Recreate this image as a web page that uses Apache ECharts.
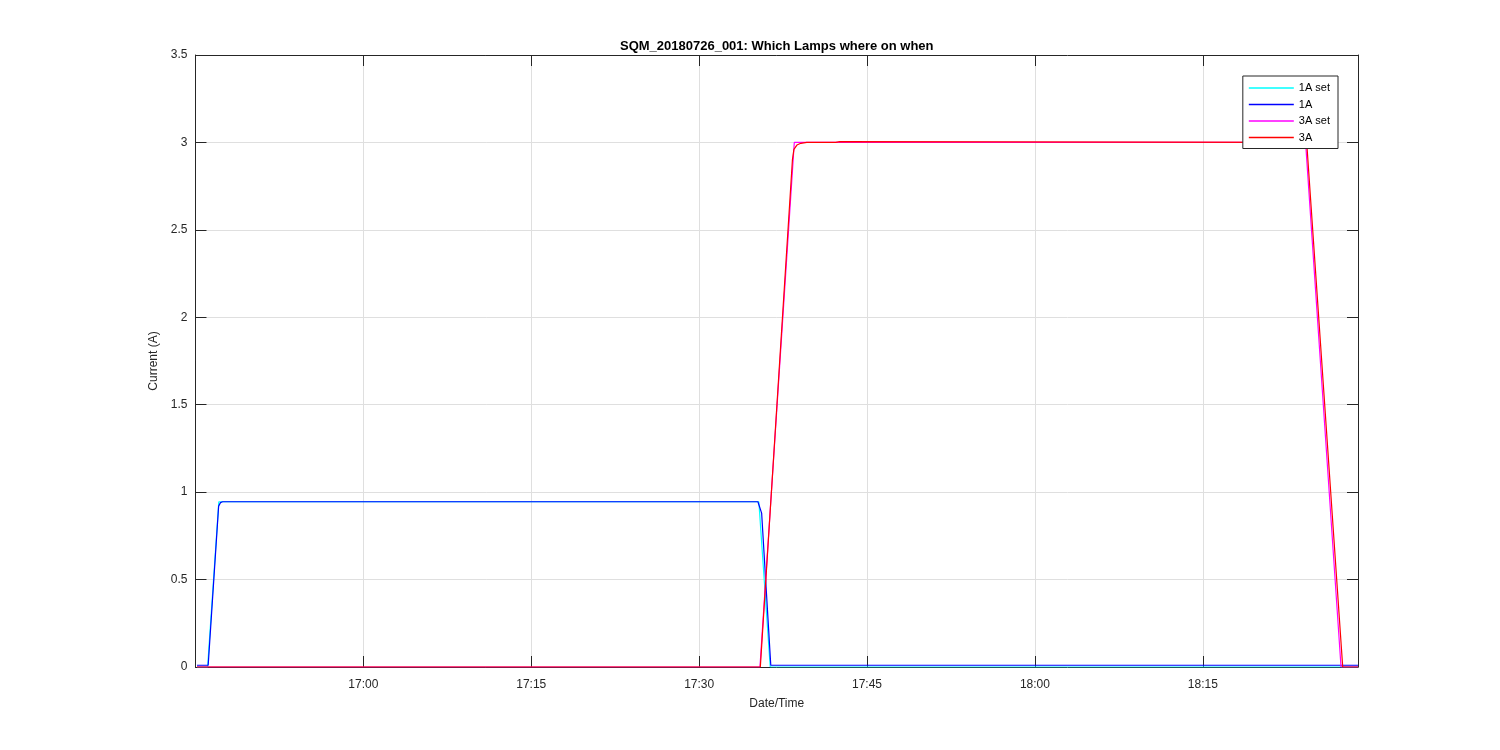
<!DOCTYPE html>
<html>
<head>
<meta charset="utf-8">
<script src="https://cdn.jsdelivr.net/npm/echarts@6/dist/echarts.min.js"></script>
<style>
html,body{margin:0;padding:0;background:#fff;}
#chart{width:1500px;height:750px;}
</style>
</head>
<body>
<div id="chart"></div>
<script>
// ---- data (times on 2018-07-26, HH:MM:SS) ----
const titleText = 'SQM_20180726_001: Which Lamps where on when';
const seriesNames = ['1A set', '1A', '3A set', '3A'];
const yTicks = [0, 0.5, 1, 1.5, 2, 2.5, 3, 3.5];
const xStart = '16:45:00';
const xEnd = '18:28:52';

const oneASetTimes = ['16:45:08','16:46:05','16:47:05','17:35:20','17:36:21','18:28:52'];
const oneASetVals  = [0, 0, 0.945, 0.945, 0, 0];

const oneATimes = ['16:45:08','16:46:08','16:47:04','16:47:14','16:47:25','17:35:15','17:35:35','17:36:24','18:28:52'];
const oneAVals  = [0.01, 0.01, 0.92, 0.94, 0.945, 0.945, 0.88, 0.01, 0.01];

const threeASetTimes = ['16:45:08','17:35:26','17:38:30','18:24:11','18:27:21','18:28:52'];
const threeASetVals  = [0, 0, 3, 3, 0, 0];

const threeATimes = ['16:45:08','17:35:28','17:38:20','17:38:28','17:38:44','17:39:05','17:39:37','17:42:12','17:42:18','17:42:34','17:42:39','18:24:17','18:27:30','18:28:52'];
const threeAVals  = [0, 0, 2.9, 2.96, 2.985, 2.995, 3, 3, 3.005, 3.005, 3, 3, 0, 0];

// ---- helpers ----
function toMin(s){ const p = s.split(':').map(Number); return p[0]*60 + p[1] + (p[2]||0)/60; }
function pairs(ts, vs){ return ts.map((t,i)=>[toMin(t), vs[i]]); }
function fmtTime(v){ const r = Math.round(v); const h = Math.floor(r/60), m = r%60; return h + ':' + (m<10?'0':'') + m; }

const FONT = '"Liberation Sans", Arial, Helvetica, sans-serif';
const AX = '#262626';
const GRIDC = '#dfdfdf';
const colors = ['#00ffff', '#0000ff', '#ff00ff', '#ff0000'];
const xMin = toMin(xStart), xMax = toMin(xEnd);

const chart = echarts.init(document.getElementById('chart'), null, {renderer: 'canvas'});

const gridLeft = 195.5, gridRight = 142, gridTop = 55, gridBottom = 83;

chart.setOption({
  animation: false,
  backgroundColor: '#fff',
  textStyle: {fontFamily: FONT},
  graphic: [{
    type: 'text',
    x: (gridLeft + (1500 - gridRight)) / 2,
    y: 46,
    style: {text: titleText, fill: '#000', font: 'bold 13px ' + FONT, textAlign: 'center', textVerticalAlign: 'middle'},
    z: 10
  }],
  grid: {left: gridLeft, right: gridRight, top: gridTop, bottom: gridBottom, containLabel: false, outerBoundsMode: 'none'},
  legend: {
    data: seriesNames,
    orient: 'vertical',
    right: 162,
    top: 76,
    icon: 'rect',
    itemWidth: 45,
    itemHeight: 1.5,
    itemGap: 4.5,
    selectedMode: false,
    backgroundColor: '#fff',
    borderColor: AX,
    borderWidth: 1,
    borderRadius: 0,
    padding: [6, 8, 5, 6],
    textStyle: {fontSize: 11, lineHeight: 12, color: '#000', fontFamily: FONT}
  },
  xAxis: [{
    type: 'value',
    min: xMin, max: xMax, interval: 15,
    name: 'Date/Time', nameLocation: 'middle', nameGap: 31,
    nameTextStyle: {fontSize: 12, color: AX, fontFamily: FONT},
    axisLine: {show: true, onZero: false, lineStyle: {color: AX, width: 1}},
    axisTick: {show: true, inside: true, length: 11, lineStyle: {color: AX}},
    axisLabel: {show: true, margin: 12, fontSize: 12, color: AX, fontFamily: FONT, formatter: fmtTime, showMinLabel: false, showMaxLabel: false},
    splitLine: {show: true, lineStyle: {color: GRIDC, width: 1}}
  }, {
    type: 'value', position: 'top',
    min: xMin, max: xMax, interval: 15,
    axisLine: {show: true, onZero: false, lineStyle: {color: AX, width: 1}},
    axisTick: {show: true, inside: true, length: 11, lineStyle: {color: AX}},
    axisLabel: {show: false},
    splitLine: {show: false}
  }],
  yAxis: [{
    type: 'value',
    min: yTicks[0], max: yTicks[yTicks.length-1], interval: yTicks[1]-yTicks[0],
    name: 'Current (A)', nameLocation: 'middle', nameGap: 30,
    nameTextStyle: {fontSize: 12, color: AX, fontFamily: FONT},
    axisLine: {show: true, onZero: false, lineStyle: {color: AX, width: 1}},
    axisTick: {show: true, inside: true, length: 11, lineStyle: {color: AX}},
    axisLabel: {show: true, margin: 8, fontSize: 12, color: AX, fontFamily: FONT, padding: [3, 0, 0, 0]},
    splitLine: {show: true, lineStyle: {color: GRIDC, width: 1}}
  }, {
    type: 'value', position: 'right',
    min: yTicks[0], max: yTicks[yTicks.length-1], interval: yTicks[1]-yTicks[0],
    axisLine: {show: true, onZero: false, lineStyle: {color: AX, width: 1}},
    axisTick: {show: true, inside: true, length: 11, lineStyle: {color: AX}},
    axisLabel: {show: false},
    splitLine: {show: false}
  }],
  series: [
    {name: seriesNames[0], type: 'line', data: pairs(oneASetTimes, oneASetVals), color: colors[0]},
    {name: seriesNames[1], type: 'line', data: pairs(oneATimes, oneAVals), color: colors[1]},
    {name: seriesNames[2], type: 'line', data: pairs(threeASetTimes, threeASetVals), color: colors[2]},
    {name: seriesNames[3], type: 'line', data: pairs(threeATimes, threeAVals), color: colors[3]}
  ].map(s => Object.assign(s, {
    showSymbol: false, symbol: 'none', clip: true,
    lineStyle: {width: 1.2, color: s.color},
    itemStyle: {color: s.color},
    emphasis: {disabled: true}
  }))
});
</script>
</body>
</html>
